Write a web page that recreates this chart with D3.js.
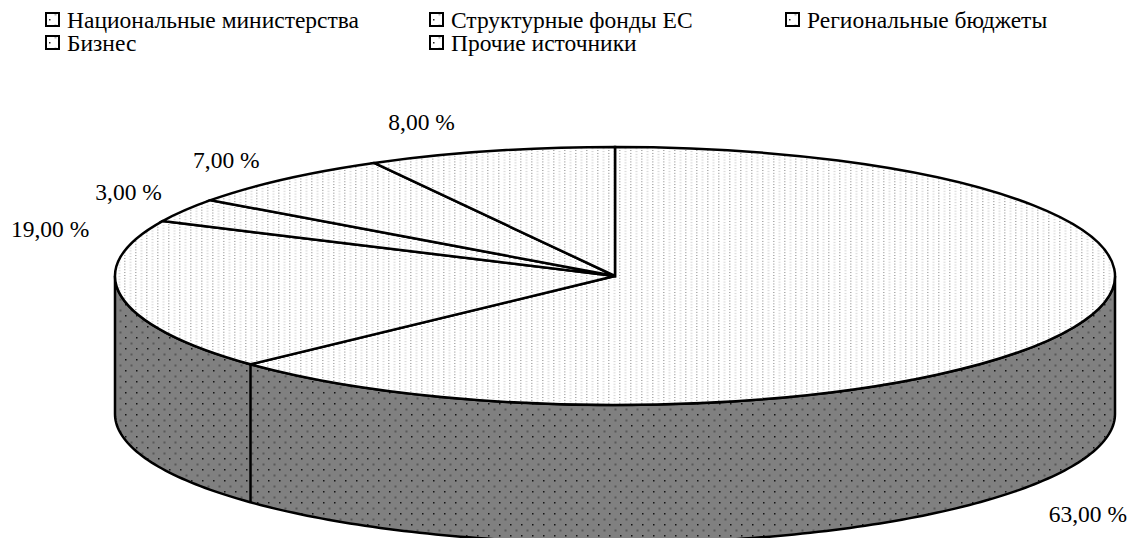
<!DOCTYPE html>
<html>
<head>
<meta charset="utf-8">
<script src="https://cdn.jsdelivr.net/npm/d3@7"></script>
<style>
    html, body { margin: 0; padding: 0; background: #fff; }
    text { font-family: "Liberation Serif", serif; font-size: 23.5px; fill: #000; }
</style>
</head>
<body>
<div id="chart"></div>
<script>
'use strict';

// Values
const sliceValues = [63, 19, 3, 7, 8];
const legendLabels = ['Национальные министерства', 'Структурные фонды ЕС', 'Региональные бюджеты', 'Бизнес', 'Прочие источники'];

const width = 1130, height = 538;
const cx = 615, cy = 276, rx = 500, ry = 129, depth = 138;

const svg = d3.select('#chart').append('svg')
    .attr('width', width)
    .attr('height', height)
    .style('display', 'block');

// Dotted fills
const defs = svg.append('defs');
const addPattern = (id, back) => {
    const p = defs.append('pattern')
        .attr('id', id)
        .attr('patternUnits', 'userSpaceOnUse')
        .attr('patternTransform', 'translate(4, 7)')
        .attr('width', 11)
        .attr('height', 11);
    p.append('rect').attr('width', 11).attr('height', 11).attr('fill', back);
    p.append('rect').attr('width', 1.5).attr('height', 1.5).attr('fill', '#000').attr('opacity', 0.85);
    p.append('rect').attr('x', 5.5).attr('y', 5.5).attr('width', 2).attr('height', 2).attr('fill', '#000').attr('opacity', 0.3);
};
addPattern('dots-top', '#fff');
addPattern('dots-side', '#808080');

const pie = d3.pie().sort(null).value(d => d);
const slices = pie(sliceValues);

// Angle on the tilted disc, 0 at the top and clockwise
const px = a => cx + rx * Math.sin(a);
const py = a => cy - ry * Math.cos(a);

// Outer wall
const wallPoints = d3.range(90, 270.5, 1).map(a => a * Math.PI / 180);
const wallLine = d3.line();
const wall = wallLine(wallPoints.map(a => [px(a), py(a)])
    .concat(wallPoints.slice().reverse().map(a => [px(a), py(a) + depth])));

svg.append('path')
    .attr('d', wall + 'Z')
    .attr('fill', 'url(#dots-side)')
    .attr('stroke', '#000')
    .attr('stroke-width', 2.5);

// Wall seam of the slice border that falls in front
svg.selectAll('line.seam')
    .data(slices.filter(d => d.endAngle > Math.PI / 2 && d.endAngle < 3 * Math.PI / 2))
    .join('line')
    .classed('seam', true)
    .attr('x1', d => px(d.endAngle))
    .attr('x2', d => px(d.endAngle))
    .attr('y1', d => py(d.endAngle))
    .attr('y2', d => py(d.endAngle) + depth)
    .attr('stroke', '#000')
    .attr('stroke-width', 2.5);

// Top face
const arc = d3.arc().innerRadius(0).outerRadius(rx);
svg.append('g')
    .attr('transform', `translate(${cx}, ${cy}) scale(1, ${ry / rx})`)
    .selectAll('path')
    .data(slices)
    .join('path')
    .attr('d', arc)
    .attr('fill', 'url(#dots-top)')
    .attr('stroke', '#000')
    .attr('stroke-width', 2.5)
    .attr('vector-effect', 'non-scaling-stroke');

// Percent labels, nudged off the rim like the original
const labelNudge = [[14, 195], [-71, -59], [-56, -10], [-58, -11], [-69, -21]];
svg.selectAll('text.pct')
    .data(slices)
    .join('text')
    .classed('pct', true)
    .attr('text-anchor', 'middle')
    .attr('x', (d, i) => px((d.startAngle + d.endAngle) / 2) + labelNudge[i][0])
    .attr('y', (d, i) => py((d.startAngle + d.endAngle) / 2) + labelNudge[i][1])
    .text(d => `${d.value.toFixed(2).replace('.', ',')} %`);

// Legend
const legendX = d3.scaleOrdinal().domain([0, 1, 2]).range([45, 429, 785]);
const legend = svg.selectAll('g.legend-item')
    .data(legendLabels)
    .join('g')
    .classed('legend-item', true)
    .attr('transform', (d, i) => `translate(${legendX(i % 3)}, ${i < 3 ? 12 : 35})`);

legend.append('rect')
    .attr('x', 1)
    .attr('y', 1)
    .attr('width', 13)
    .attr('height', 13)
    .attr('fill', 'url(#dots-top)')
    .attr('stroke', '#000')
    .attr('stroke-width', 2);

legend.append('text')
    .attr('x', 22)
    .attr('y', 16)
    .text(d => d);
</script>
</body>
</html>
